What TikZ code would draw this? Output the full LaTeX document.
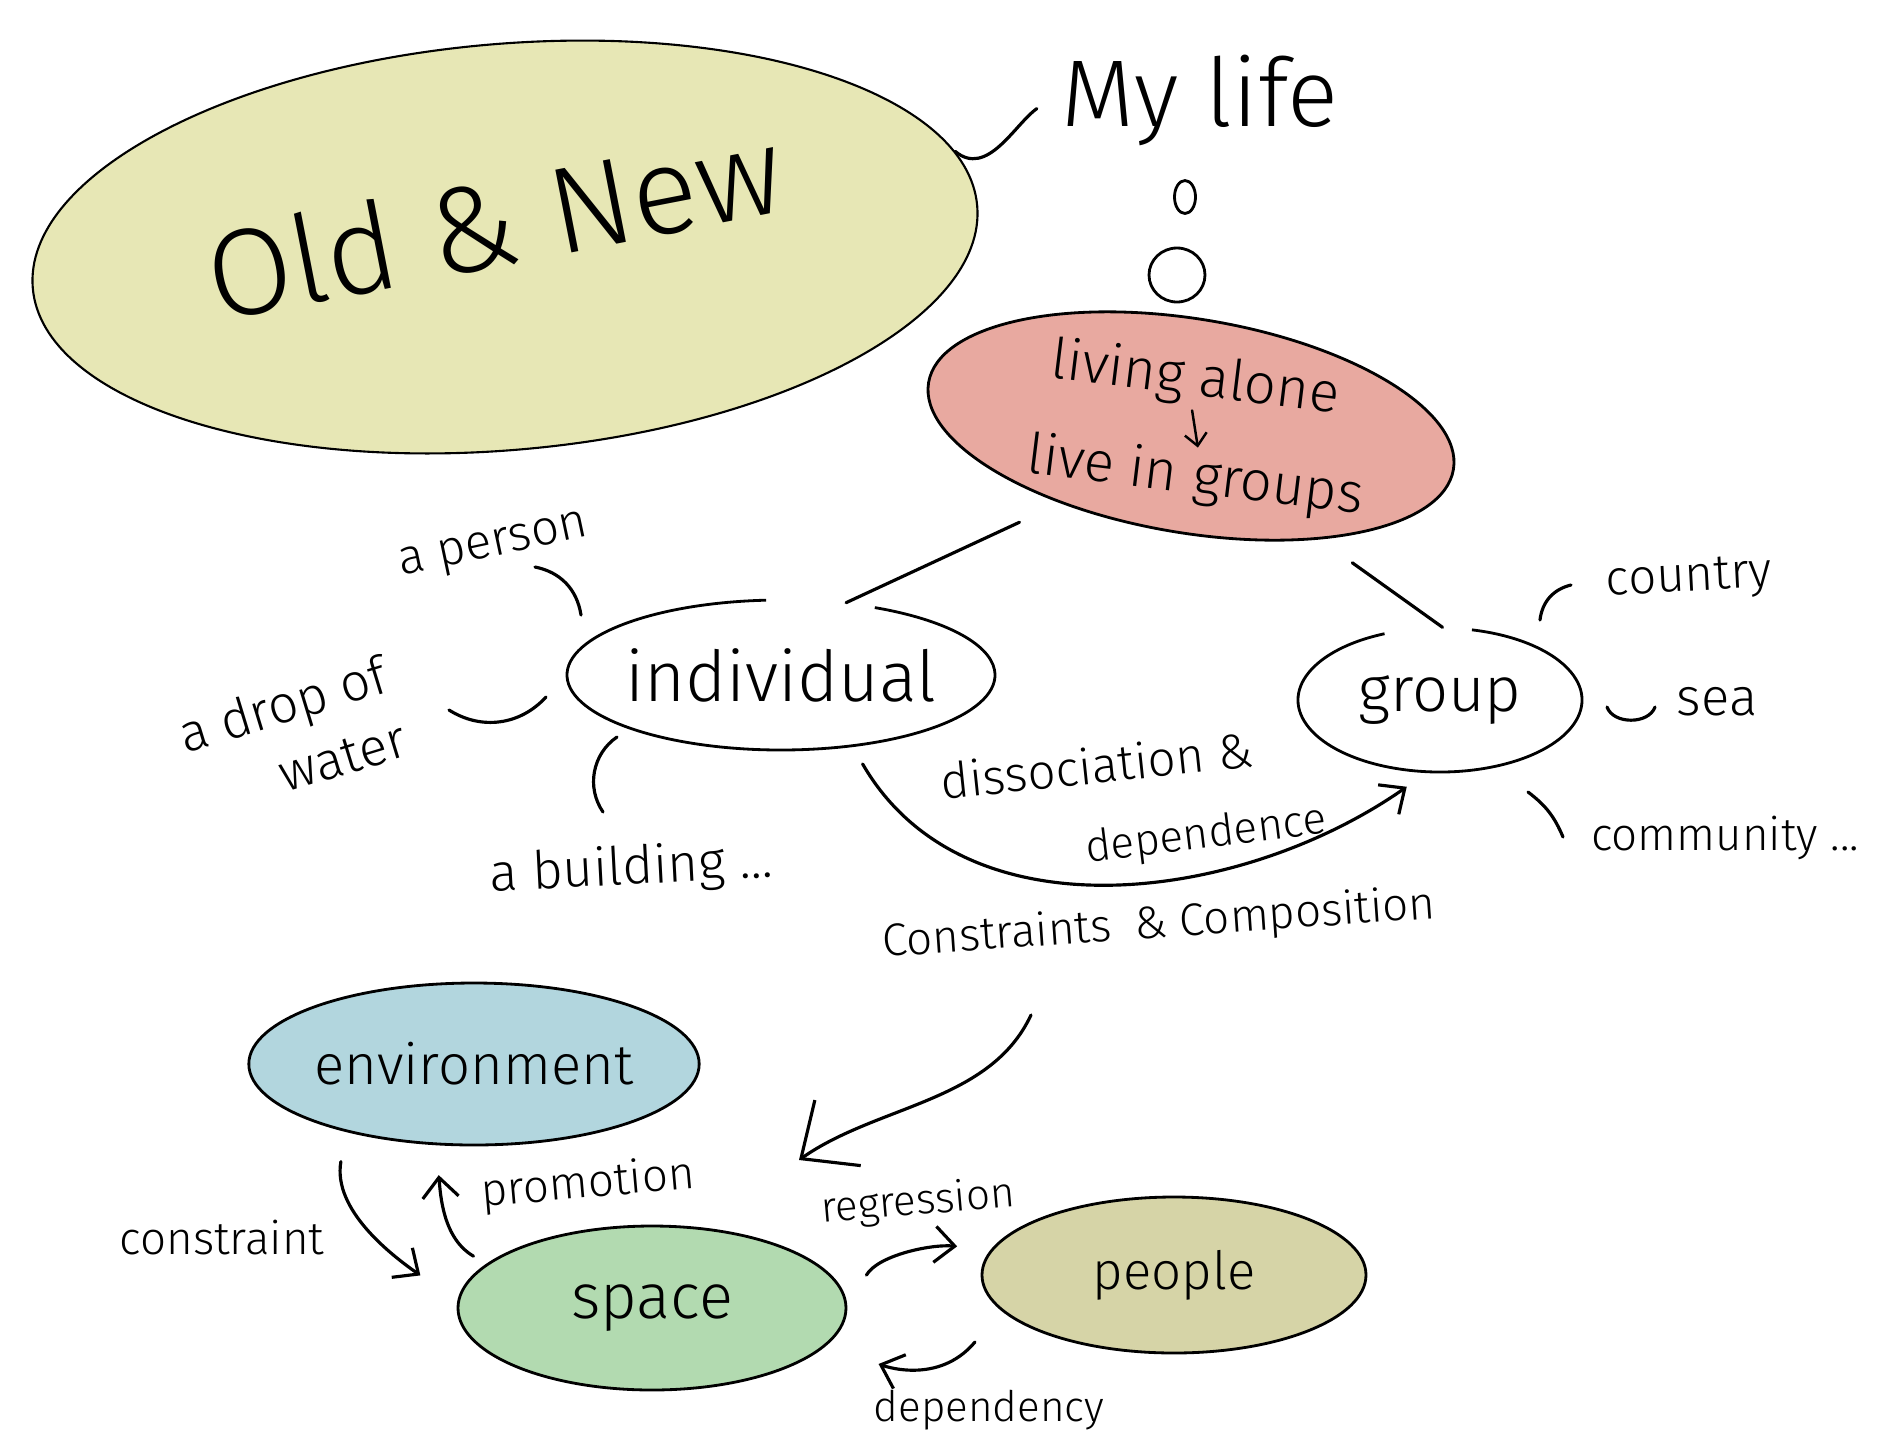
\documentclass[tikz,border=0pt]{standalone}
\usepackage{fontspec}
\setmainfont{Fira Sans}[UprightFont={* Light}]
\usepackage{xcolor}
\usetikzlibrary{shapes.geometric}
\usetikzlibrary{arrows.meta}

\definecolor{oldnewfill}{HTML}{E7E7B5}
\definecolor{livingfill}{HTML}{E8A9A0}
\definecolor{envfill}{HTML}{B2D6DE}
\definecolor{spacefill}{HTML}{B2DAB0}
\definecolor{peoplefill}{HTML}{D6D4A7}

\begin{document}
\begin{tikzpicture}[x=0.1mm,y=0.1mm,
    hand/.style={font=\fontsize{#1}{#1}\selectfont},
    bubble/.style={shape=ellipse,draw,line width=0.8pt,inner sep=0pt},
    hollow/.style={shape=ellipse,inner sep=0pt},
    outline/.style={line width=0.8pt},
    twig/.style={line width=0.9pt,line cap=round},
    flow/.style={twig,-{Straight Barb[length=2mm,width=3.6mm]}},
    bigflow/.style={twig,-{Straight Barb[length=4.5mm,width=8mm]}}]

    \path[use as bounding box,fill=white] (0,0) rectangle (1891,-1450);

    % title and thought
    \node[bubble,line width=0.6pt,fill=oldnewfill,minimum width=94.8mm,
          minimum height=40.6mm,rotate=5] (oldnew) at (505,-247) {};
    \node[hand=35,rotate=11] (title) at (494,-222) {Old \& New};
    \node[hand=27] (mylife) at (1200,-100) {My life};
    \draw[twig,shorten >=1.5mm] (oldnew.7) to[out=-40,in=215] (mylife.west);

    \node[bubble,minimum width=2.1mm,minimum height=3.3mm] (puffsmall) at (1185,-197) {};
    \node[bubble,minimum width=5.6mm,minimum height=5.4mm] (puffbig) at (1177,-275) {};

    \node[bubble,fill=livingfill,minimum width=53.2mm,minimum height=21.4mm,
          rotate=-9.4] (living) at (1191,-426) {};
    \begin{scope}[every node/.append style={inner sep=0pt,rotate=-7}]
      \node[hand=16] (alone) at (1195,-380) {living alone};
      \node[hand=16] (groups) at (1195,-478) {live in groups};
    \end{scope}
    \draw[twig,line width=0.7pt,shorten <=0.3mm,shorten >=0.3mm,
          -{Straight Barb[length=1.2mm,width=2.2mm]}] (alone.south) -- (groups.north);

    % individual and group
    \node[hollow,hand=20,minimum width=42.8mm,minimum height=15mm] (individual) at (781,-675) {individual};
    \draw[outline] (individual.center) ++(94:214 and 75)
      arc[start angle=94,end angle=424,x radius=214,y radius=75];
    \node[hollow,hand=18,minimum width=28.4mm,minimum height=14.4mm] (group) at (1440,-700) {group};
    \draw[outline] (group.center) ++(113:142 and 72)
      arc[start angle=113,end angle=437,x radius=142,y radius=72];

    \draw[twig,shorten <=4.5mm] (living.220) -- (individual.48);
    \draw[twig,shorten <=4mm] (living.-32) -- (group.88);

    \begin{scope}[every node/.append style={inner sep=1pt}]
      \node[hand=14,rotate=12] (person) at (494,-548) {a person};
      \node[font=\fontsize{15}{19}\selectfont,rotate=17,align=right] (drop) at (292,-736) {a drop of\\water};
      \node[hand=15,rotate=3] (building) at (631,-870) {a building ...};
      \node[hand=14,rotate=3] (country) at (1689,-580) {country};
      \node[hand=15] (sea) at (1717,-702) {sea};
      \node[hand=13] (community) at (1725,-838) {community ...};
    \end{scope}

    \coordinate (person-a) at (535,-567);
    \coordinate (person-b) at (581,-615);
    \coordinate (drop-a) at (449,-710);
    \coordinate (drop-b) at (546,-697);
    \coordinate (building-a) at (617,-737);
    \coordinate (building-b) at (603,-812);
    \coordinate (country-a) at (1540,-620);
    \coordinate (country-b) at (1571,-585);
    \coordinate (sea-a) at (1607,-707);
    \coordinate (sea-b) at (1655,-707);
    \coordinate (community-a) at (1528,-792);
    \coordinate (community-b) at (1563,-837);

    \draw[twig] (person-a) to[bend left=35] (person-b);
    \draw[twig] (drop-a) to[bend right=40] (drop-b);
    \draw[twig] (building-a) to[bend right=45] (building-b);
    \draw[twig] (country-a) to[bend left=35] (country-b);
    \draw[twig] (sea-a) to[bend right=70] (sea-b);
    \draw[twig] (community-a) to[bend left=15] (community-b);

    \draw[flow,shorten <=2mm,shorten >=2.5mm] (individual.-45) to[out=-60,in=215] (group.-100);
    \node[hand=14,rotate=6] (dissoc) at (1097,-765) {dissociation \&};
    \node[hand=12.5,rotate=7] (depend) at (1206,-836) {dependence};
    \node[hand=13,rotate=4] (compos) at (1159,-925) {Constraints\enspace\& Composition};

    \coordinate (fall-a) at (1031,-1015);
    \coordinate (fall-b) at (799,-1160);
    \draw[bigflow] (fall-a) to[out=-115,in=35,looseness=0.9] (fall-b);

    % environment, space, people
    \node[bubble,fill=envfill,hand=16,minimum width=44.8mm,minimum height=16.2mm] (environment) at (474,-1064) {environment};
    \node[bubble,fill=spacefill,hand=18,minimum width=38.8mm,minimum height=16.4mm] (space) at (652,-1308) {space};
    \node[bubble,fill=peoplefill,hand=15,minimum width=38.4mm,minimum height=15.6mm] (people) at (1174,-1275) {people};

    \draw[flow,shorten <=3mm,shorten >=4.5mm] (environment.208) to[out=-100,in=145] (space.178);
    \draw[flow,shorten <=1.5mm,shorten >=3mm] (space.165) to[out=150,in=-85] (environment.245);
    \draw[flow,shorten <=3.8mm,shorten >=3.4mm] (space.east) to[out=60,in=175] (people.172);
    \coordinate (dep-a) at (975,-1342);
    \draw[flow,shorten >=5.5mm] (dep-a) to[out=-130,in=-20] (space.-12);

    \node[hand=13] (constraint) at (222,-1238) {constraint};
    \node[hand=13,rotate=5] (promotion) at (588,-1185) {promotion};
    \node[hand=12,rotate=5] (regression) at (918,-1203) {regression};
    \node[hand=12] (dependency) at (989,-1410) {dependency};
  \end{tikzpicture}
\end{document}
